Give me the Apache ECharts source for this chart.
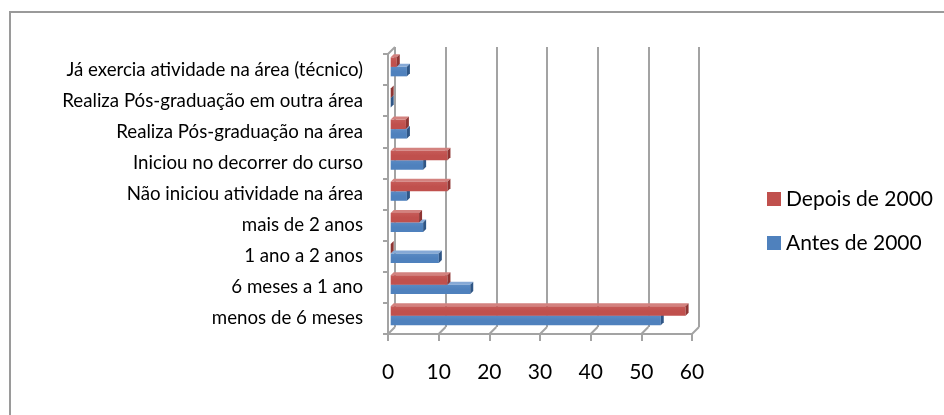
<!DOCTYPE html>
<html>
<head>
<meta charset="utf-8">
<script src="https://cdn.jsdelivr.net/npm/echarts@6/dist/echarts.min.js"></script>
<style>html,body{margin:0;padding:0;background:#fff}#c{width:944px;height:415px}</style>
</head>
<body>
<div id="c"></div>
<script>
const categories = [
  'menos de 6 meses',
  '6 meses a 1 ano',
  '1 ano a 2 anos',
  'mais de 2 anos',
  'Não iniciou atividade na área',
  'Iniciou no decorrer do curso',
  'Realiza Pós-graduação na área',
  'Realiza Pós-graduação em outra área',
  'Já exercia atividade na área (técnico)'
];
const antes2000 = [53.3, 15.7, 9.5, 6.4, 3.2, 6.4, 3.2, 0, 3.2];
const depois2000 = [58.2, 11.2, 0, 5.6, 11.2, 11.2, 3.0, 0, 1.2];
const xTicks = [0, 10, 20, 30, 40, 50, 60];

const FONT = 'Lato';
const GRID_COLOR = '#a3a3a3';
const SHIFT = 2.7;   // bars sit slightly behind front plane
const DEPTH = 3;     // visible bar depth
const WALL = 7;      // back wall offset

function bar3d(colors, upper) {
  return function (params, api) {
    const val = api.value(0);
    const cat = api.value(1);
    const p0 = api.coord([0, cat]);
    const p1 = api.coord([val, cat]);
    const band = api.size([0, 1])[1];
    const h = band * 0.305;
    const x0 = p0[0] + SHIFT;
    const x1 = p1[0] + SHIFT;
    const y0 = (upper ? p0[1] - h : p0[1]) - SHIFT;
    const d = DEPTH;
    return {
      type: 'group',
      children: [
        { type: 'polygon', shape: { points: [[x0, y0], [x1, y0], [x1 + d, y0 - d], [x0 + d, y0 - d]] },
          style: { fill: colors.top } },
        { type: 'rect', shape: { x: x0, y: y0, width: Math.max(x1 - x0, 0), height: h },
          style: { fill: new echarts.graphic.LinearGradient(0, 0, 0, 1, [
            { offset: 0, color: colors.light }, { offset: 0.5, color: colors.main }, { offset: 1, color: colors.main }]) } },
        { type: 'polygon', shape: { points: [[x1, y0], [x1 + d, y0 - d], [x1 + d, y0 + h - d], [x1, y0 + h]] },
          style: { fill: colors.side } }
      ]
    };
  };
}

const RED = { main: '#C0504D', light: '#C65B58', top: '#D3827F', side: '#8E3533' };
const BLUE = { main: '#4F81BD', light: '#5A8AC3', top: '#86A9D6', side: '#2F5686' };

const chart = echarts.init(document.getElementById('c'), null, { renderer: 'canvas' });
chart.setOption({
  animation: false,
  backgroundColor: '#fff',
  graphic: [
    { type: 'rect', shape: { x: 10, y: 12, width: 1000, height: 1000 },
      style: { fill: 'none', stroke: '#9a9a9a', lineWidth: 2 }, z: 0 }
  ],
  legend: {
    orient: 'vertical',
    left: 762,
    top: 183,
    itemWidth: 14,
    itemHeight: 14,
    itemGap: 22,
    icon: 'rect',
    data: ['Depois de 2000', 'Antes de 2000'],
    textStyle: { fontFamily: FONT, fontSize: 21, color: '#000', lineHeight: 22 }
  },
  grid: [
    { left: 388, right: 252, top: 54, bottom: 81 },
    { left: 395, right: 245, top: 47, bottom: 88 }
  ],
  xAxis: [
    { gridIndex: 0, type: 'value', min: 0, max: 60, interval: 10,
      axisLine: { show: true, lineStyle: { color: GRID_COLOR, width: 2 } },
      axisTick: { show: true, length: 7, lineStyle: { color: GRID_COLOR, width: 2 } },
      splitLine: { show: false },
      axisLabel: { margin: 28, fontFamily: FONT, fontSize: 21, color: '#000',
        formatter: function (v) { return xTicks.indexOf(v) >= 0 ? String(v) : ''; } } },
    { gridIndex: 1, type: 'value', min: 0, max: 60, interval: 10,
      axisLine: { show: false }, axisTick: { show: false }, axisLabel: { show: false },
      splitLine: { show: true, lineStyle: { color: GRID_COLOR, width: 2 } } }
  ],
  yAxis: [
    { gridIndex: 0, type: 'category', data: categories,
      axisLine: { show: true, lineStyle: { color: GRID_COLOR, width: 2 } },
      axisTick: { show: true, length: 5, interval: 0, lineStyle: { color: GRID_COLOR, width: 2 } },
      axisLabel: { margin: 25, fontFamily: FONT, fontSize: 18.7, color: '#000', interval: 0 } },
    { gridIndex: 1, type: 'category', data: categories, show: false }
  ],
  series: [
    { name: 'walls', type: 'custom', xAxisIndex: 0, yAxisIndex: 0, silent: true, z: 1,
      data: xTicks.map(function (v) { return [v, 0]; }),
      renderItem: function (params, api) {
        const v = api.value(0);
        const p = api.coord([v, 0]);
        const band = api.size([0, 1])[1];
        const yb = p[1] + band / 2;
        const children = [
          { type: 'line', shape: { x1: p[0], y1: yb, x2: p[0] + WALL, y2: yb - WALL },
            style: { stroke: GRID_COLOR, lineWidth: 2 } }
        ];
        if (v === 0) {
          const pt = api.coord([0, categories.length - 1]);
          const yt = pt[1] - band / 2;
          children.push({ type: 'line', shape: { x1: p[0], y1: yt, x2: p[0] + WALL, y2: yt - WALL },
            style: { stroke: GRID_COLOR, lineWidth: 2 } });
        }
        return { type: 'group', children: children };
      } },
    { name: 'Antes de 2000', type: 'custom', xAxisIndex: 0, yAxisIndex: 0, z: 3,
      itemStyle: { color: BLUE.main },
      encode: { x: 0, y: 1 },
      data: antes2000.map(function (v, i) { return [v, i]; }),
      renderItem: bar3d(BLUE, false) },
    { name: 'Depois de 2000', type: 'custom', xAxisIndex: 0, yAxisIndex: 0, z: 4,
      itemStyle: { color: RED.main },
      encode: { x: 0, y: 1 },
      data: depois2000.map(function (v, i) { return [v, i]; }),
      renderItem: bar3d(RED, true) }
  ]
});
</script>
</body>
</html>
